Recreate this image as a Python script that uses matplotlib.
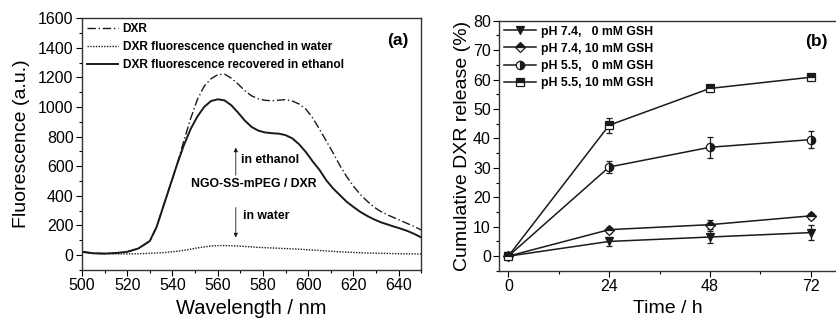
import numpy as np
import matplotlib
matplotlib.use('Agg')
import matplotlib.pyplot as plt
from matplotlib.ticker import MultipleLocator

plt.rcParams['font.family'] = ['Liberation Sans', 'DejaVu Sans']

# panel (a): emission spectra
wl = [500, 505, 510, 515, 520, 525] + list(range(530, 651, 3))
ethanol = [22, 12, 10, 14, 22, 45,
           95, 190, 330, 470, 610, 740, 850, 935, 1000, 1040,
           1052, 1045, 1012, 962, 908, 865, 840, 828, 823, 820,
           810, 788, 748, 695, 632, 575, 505, 450, 405, 360,
           325, 292, 265, 242, 222, 207, 192, 178, 162, 142, 119]
dxr = [22, 12, 10, 14, 22, 45,
       95, 190, 330, 470, 610, 770, 920, 1050, 1140, 1190,
       1218, 1222, 1195, 1155, 1110, 1075, 1055, 1045, 1042, 1046,
       1050, 1040, 1020, 985, 925, 850, 770, 690, 605, 530,
       465, 410, 365, 325, 295, 272, 252, 232, 212, 192, 169]
water = [25, 12, 10, 8, 8, 9,
         12, 14, 17, 21, 26, 32, 40, 48, 55, 61,
         64, 64, 63, 61, 58, 55, 52, 50, 48, 46,
         44, 42, 40, 37, 34, 31, 28, 25, 22, 20,
         18, 16, 14, 13, 12, 11, 10, 9, 8, 8, 7]

# panel (b): release profiles
t = [0, 24, 48, 72]
r74_0 = [0, 5.0, 6.5, 8.0]
e74_0 = [0.5, 1.5, 2.0, 2.5]
r74_10 = [0, 9.0, 10.7, 13.7]
e74_10 = [0.5, 1.0, 1.5, 1.0]
r55_0 = [0, 30.3, 37.0, 39.6]
e55_0 = [0.5, 2.0, 3.5, 3.0]
r55_10 = [0, 44.5, 57.0, 60.8]
e55_10 = [0.5, 2.5, 1.2, 1.0]

fig = plt.figure(figsize=(8.36, 3.24), dpi=100)
ax1 = fig.add_axes([0.098, 0.167, 0.406, 0.777])
ax2 = fig.add_axes([0.597, 0.164, 0.403, 0.772])

lc = '#1a1a1a'
ax1.plot(wl, dxr, color=lc, lw=1.0, ls=(0, (6, 2, 1, 2)), label='DXR')
ax1.plot(wl, water, color=lc, lw=1.0, ls=(0, (1, 1)), label='DXR fluorescence quenched in water')
ax1.plot(wl, ethanol, color=lc, lw=1.4, label='DXR fluorescence recovered in ethanol')
ax1.set_xlim(500, 650)
ax1.set_ylim(-100, 1600)
ax1.xaxis.set_major_locator(MultipleLocator(20))
ax1.xaxis.set_minor_locator(MultipleLocator(10))
ax1.yaxis.set_major_locator(MultipleLocator(200))
ax1.yaxis.set_minor_locator(MultipleLocator(100))
ax1.set_xlabel('Wavelength / nm', fontsize=14.5)
ax1.set_ylabel('Fluorescence (a.u.)', fontsize=14, labelpad=6)
ax1.legend(loc='upper left', frameon=False, prop={'weight': 'bold', 'size': 8.6},
           handlelength=2.6, handletextpad=0.4, borderaxespad=0.2, borderpad=0.2,
           labelspacing=0.5)
ax1.text(0.962, 0.913, '(a)', transform=ax1.transAxes, ha='right', va='center',
         fontsize=12.5, fontweight='bold')
ax1.annotate('', xy=(568, 745), xytext=(568, 520),
             arrowprops=dict(arrowstyle='-|>', color=lc, lw=0.6, mutation_scale=6))
ax1.annotate('', xy=(568, 100), xytext=(568, 340),
             arrowprops=dict(arrowstyle='-|>', color=lc, lw=0.6, mutation_scale=6))
ax1.text(570.5, 640, 'in ethanol', fontsize=8.8, fontweight='bold', va='center')
ax1.text(576, 482, 'NGO-SS-mPEG / DXR', fontsize=8.8, fontweight='bold', ha='center', va='center')
ax1.text(571, 262, 'in water', fontsize=8.8, fontweight='bold', va='center')

series = [
    (r74_0, e74_0, 'v', 'full', 'pH 7.4,   0 mM GSH'),
    (r74_10, e74_10, 'D', 'top', 'pH 7.4, 10 mM GSH'),
    (r55_0, e55_0, 'o', 'right', 'pH 5.5,   0 mM GSH'),
    (r55_10, e55_10, 's', 'top', 'pH 5.5, 10 mM GSH'),
]
for r, e, m, fs, lab in series:
    ms = 5 if m == 'D' else 6
    ax2.errorbar(t, r, yerr=e, fmt='none', ecolor=lc, elinewidth=0.9,
                 capsize=2.5, capthick=0.9)
    ax2.plot(t, r, color=lc, lw=1.1, marker=m, ms=ms, fillstyle=fs,
             markerfacecolor=lc, markerfacecoloralt='white', markeredgecolor=lc,
             markeredgewidth=0.9, label=lab)
ax2.set_xlim(-2.2, 78)
ax2.set_ylim(-5, 80)
ax2.xaxis.set_major_locator(MultipleLocator(24))
ax2.xaxis.set_minor_locator(MultipleLocator(12))
ax2.yaxis.set_major_locator(MultipleLocator(10))
ax2.yaxis.set_minor_locator(MultipleLocator(5))
ax2.set_xlabel('Time / h', fontsize=14)
ax2.set_ylabel('Cumulative DXR release (%)', fontsize=14, labelpad=1)
ax2.spines['right'].set_visible(False)
ax2.legend(loc='upper left', frameon=False, prop={'weight': 'bold', 'size': 8.8},
           handlelength=2.6, handletextpad=0.4, borderaxespad=0.2, borderpad=0.2,
           labelspacing=0.42)
ax2.text(0.975, 0.915, '(b)', transform=ax2.transAxes, ha='right', va='center',
         fontsize=12.5, fontweight='bold')

for ax in (ax1, ax2):
    ax.tick_params(which='major', direction='out', length=4, width=0.8, labelsize=11.5, pad=2)
    ax.tick_params(which='minor', direction='out', length=2.5, width=0.8)
    for s in ax.spines.values():
        s.set_linewidth(1.0)
        s.set_color('#333333')

fig.savefig('out.png', dpi=100)
